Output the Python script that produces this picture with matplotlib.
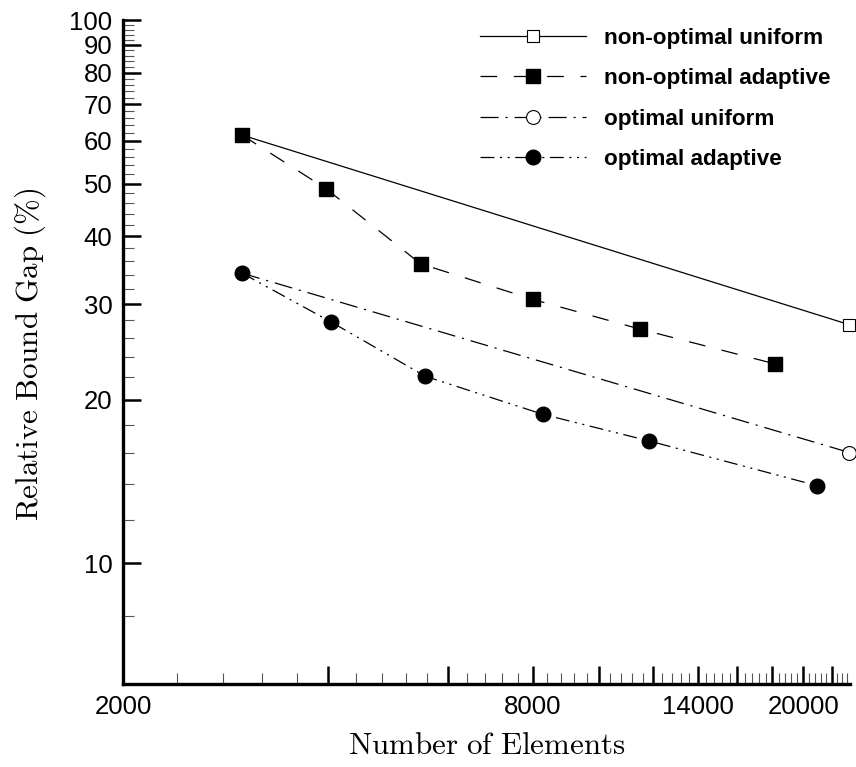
import matplotlib
matplotlib.use("Agg")
import matplotlib.pyplot as plt
from matplotlib.ticker import FixedLocator, NullFormatter, FixedFormatter

# ---- data ----
nu_x = [2990, 23370]
nu_y = [61.4, 27.5]

na_x = [2990, 3975, 5470, 8010, 11490, 18150]
na_y = [61.4, 48.9, 35.6, 30.6, 27.0, 23.3]

ou_x = [2990, 23370]
ou_y = [34.2, 16.0]

oa_x = [2990, 4045, 5560, 8290, 11870, 20960]
oa_y = [34.2, 27.8, 22.1, 18.8, 16.8, 13.9]

labels = ["non-optimal uniform", "non-optimal adaptive", "optimal uniform", "optimal adaptive"]

x_major = [2000, 4000, 6000, 8000, 10000, 12000, 14000, 16000, 18000, 20000, 22000]
x_labels = ["2000", "", "", "8000", "", "", "14000", "", "", "20000", ""]
y_major = [10, 20, 30, 40, 50, 60, 70, 80, 90, 100]
y_labels = ["10", "20", "30", "40", "50", "60", "70", "80", "90", "100"]

plt.rcParams['lines.scale_dashes'] = False
plt.rcParams['mathtext.fontset'] = 'cm'

W, H = 856, 767
fig = plt.figure(figsize=(W / 100, H / 100), dpi=100)
L, R, T, B = 123.4, 850, 20, 684
ax = fig.add_axes([L / W, 1 - B / H, (R - L) / W, (B - T) / H])
ax.set_xscale('log')
ax.set_yscale('log')
ax.set_xlim(2000, 23420)
ax.set_ylim(6, 100)

lw = 0.9
ax.plot(nu_x, nu_y, color='black', lw=lw, ls='-', marker='s', ms=9,
        mfc='white', mec='black', mew=0.8, clip_on=False, label=labels[0])
ax.plot(na_x, na_y, color='black', lw=lw, dashes=(12, 12), marker='s', ms=9.5,
        mfc='black', mec='black', clip_on=False, label=labels[1])
ax.plot(ou_x, ou_y, color='black', lw=lw, dashes=(13, 5, 1.5, 5), marker='o', ms=10,
        mfc='white', mec='black', mew=0.8, clip_on=False, label=labels[2])
ax.plot(oa_x, oa_y, color='black', lw=lw, dashes=(10, 4, 1.5, 4, 1.5, 4), marker='o', ms=10.5,
        mfc='black', mec='black', clip_on=False, label=labels[3])

# spines
for s in ['top', 'right']:
    ax.spines[s].set_visible(False)
for s in ['left', 'bottom']:
    ax.spines[s].set_linewidth(2.4)

# x ticks
ax.xaxis.set_major_locator(FixedLocator(x_major))
ax.xaxis.set_major_formatter(FixedFormatter(x_labels))
x_minor = [v for v in range(2400, 23420, 400) if v % 2000 != 0]
ax.xaxis.set_minor_locator(FixedLocator(x_minor))
ax.xaxis.set_minor_formatter(NullFormatter())

# y ticks
ax.yaxis.set_major_locator(FixedLocator(y_major))
ax.yaxis.set_major_formatter(FixedFormatter(y_labels))
y_minor = [v for v in range(8, 100, 2) if v % 10 != 0]
ax.yaxis.set_minor_locator(FixedLocator(y_minor))
ax.yaxis.set_minor_formatter(NullFormatter())

ax.tick_params(which='major', direction='in', length=13, width=1.8, pad=8,
               labelsize=18.5)
ax.tick_params(which='minor', direction='in', length=8, width=0.8, color='#555555')
for lab in ax.get_xticklabels() + ax.get_yticklabels():
    lab.set_family('Liberation Sans')

ax.set_xlabel(r'$\mathrm{Number\ of\ Elements}$', fontsize=22.3, va='center', ha='center')
ax.set_ylabel(r'$\mathrm{Relative\ Bound\ Gap\ (\%)}$', fontsize=22.3, va='center', ha='center')
ax.xaxis.set_label_coords((487 - L) / (R - L), (B - 745) / (B - T))
ax.yaxis.set_label_coords((30 - L) / (R - L), (B - 354) / (B - T))

leg = ax.legend(loc='upper left', bbox_to_anchor=(0.4908, (B - 28) / (B - T)), frameon=False,
                prop={'family': 'Liberation Sans', 'weight': 'bold', 'size': 16.2},
                handlelength=4.7, handletextpad=0.8, labelspacing=0.86,
                borderpad=0, borderaxespad=0, numpoints=1)

fig.savefig('out.png', dpi=100)
